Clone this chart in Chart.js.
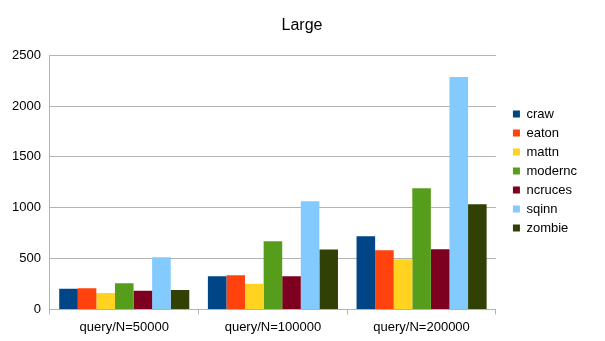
<!DOCTYPE html>
<html>
<head>
<meta charset="utf-8">
<script src="https://cdn.jsdelivr.net/npm/chart.js@4"></script>
<style>
  html, body { margin: 0; padding: 0; background: #fff; }
  #wrap { width: 605px; height: 341px; }
</style>
</head>
<body>
<div id="wrap"><canvas id="c" width="605" height="341"></canvas></div>
<script>
// ---- data ----
const categories = ['query/N=50000', 'query/N=100000', 'query/N=200000'];
const seriesNames = ['craw', 'eaton', 'mattn', 'modernc', 'ncruces', 'sqinn', 'zombie'];
const craw    = [204, 325, 719];
const eaton   = [207, 335, 581];
const mattn   = [161, 253, 493];
const modernc = [256, 670, 1192];
const ncruces = [184, 325, 591];
const sqinn   = [512, 1064, 2286];
const zombie  = [190, 588, 1034];
const yTicks  = [0, 500, 1000, 1500, 2000, 2500];

const colors = ['#004586', '#ff420e', '#ffd320', '#579d1c', '#7e0021', '#83caff', '#314004'];
const values = [craw, eaton, mattn, modernc, ncruces, sqinn, zombie];

Chart.defaults.font.family = '"Liberation Sans", Arial, sans-serif';
Chart.defaults.color = '#000';

// nudge legend and title to where the original has them
const nudge = {
  id: 'nudge',
  afterLayout(chart) {
    chart.legend.left += 11;
    chart.legend.right += 11;
    chart.legend.top += 1;
    chart.legend.bottom += 1;
    chart.titleBlock.left += 12.5;
    chart.titleBlock.right += 12.5;
  }
};

new Chart(document.getElementById('c'), {
  type: 'bar',
  data: {
    labels: categories,
    datasets: seriesNames.map((name, i) => ({
      label: name,
      data: values[i],
      backgroundColor: colors[i],
      borderWidth: 0
    }))
  },
  options: {
    responsive: false,
    animation: false,
    layout: { padding: { left: 3, right: 29, bottom: 1 } },
    categoryPercentage: 0.875,
    barPercentage: 1,
    plugins: {
      title: {
        display: true,
        text: 'Large',
        font: { size: 16, weight: 'normal' },
        padding: { top: 16, bottom: 20 }
      },
      legend: {
        position: 'right',
        labels: {
          boxWidth: 7,
          boxHeight: 7,
          padding: 6,
          font: { size: 13 }
        }
      },
      tooltip: { enabled: false }
    },
    scales: {
      x: {
        grid: {
          offset: true,
          drawOnChartArea: false,
          color: '#b3b3b3',
          tickLength: 5
        },
        border: { color: '#b3b3b3' },
        ticks: { font: { size: 13 }, padding: 5 }
      },
      y: {
        min: 0,
        max: 2500,
        afterBuildTicks(axis) { axis.ticks = yTicks.map(v => ({ value: v })); },
        grid: { color: '#b3b3b3', drawTicks: false },
        border: { color: '#b3b3b3' },
        ticks: { font: { size: 13 }, padding: 9, callback: v => String(v) }
      }
    }
  },
  plugins: [nudge]
});
</script>
</body>
</html>
